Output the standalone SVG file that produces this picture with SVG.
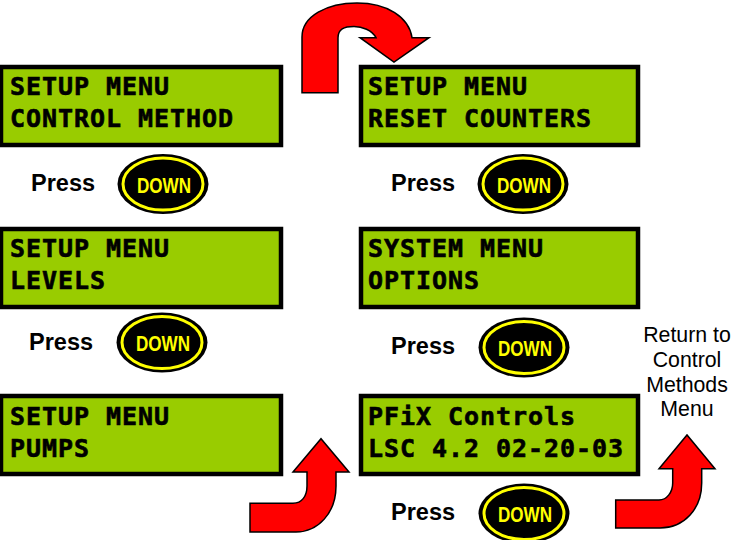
<svg xmlns="http://www.w3.org/2000/svg" width="734" height="540" viewBox="0 0 734 540">
<style>
.lcd{fill:#99cc00;stroke:#000;stroke-width:4.500}
.lt{font-family:"DejaVu Sans Mono",monospace;font-weight:700;font-size:25px;letter-spacing:.95px;fill:#000;stroke:#000;stroke-width:.6}
.pr{font-family:"Liberation Sans",Arial,sans-serif;font-weight:700;font-size:23.5px;fill:#000}
.rt{font-family:"Liberation Sans",Arial,sans-serif;font-size:21.300px;fill:#000;text-anchor:middle}
.bo{fill:#000}
.by{fill:#000;stroke:#ff0;stroke-width:3}
.bt{font-family:"Liberation Sans",Arial,sans-serif;font-weight:700;font-size:22.500px;fill:#ff0}
.ar{fill:#f00;stroke:#000;stroke-width:1.500;stroke-linejoin:miter}
</style>
<defs>
<g id="btn"><ellipse class="bo" cx="0" cy="0" rx="45.500" ry="30"/><ellipse class="by" cx="0" cy="0" rx="40" ry="26"/><text class="bt" x="-26" y="8.500" textLength="54" lengthAdjust="spacingAndGlyphs">DOWN</text></g>
</defs>
<g id="connectors">
<path class="ar" d="M302 92.700V37C302 16 327 3 357 3C387 3 409 17 412 37.700H429L394 62L360 37.700H376C372 30 362 26.500 354 26.500C344 26.500 338 29 338 38V92.700Z"/>
<path class="ar" d="M250 532V503.300H293C302 503.300 307 496 307 486V472H293L321 438.700L349 472H336V486C336 513 318 532 296 532Z"/>
<path class="ar" d="M615.700 528V500H659C667 500 672.700 492 672.700 483V468.700H659L687 435L715 468.700H701.700V483C701.700 509 684 528 660 528Z"/>
</g>
<g id="lcd-control-method"><rect class="lcd" x="1" y="67" width="280" height="78"/><text class="lt" x="10" y="95">SETUP MENU</text><text class="lt" x="10" y="127">CONTROL METHOD</text></g>
<g id="lcd-levels"><rect class="lcd" x="1" y="229" width="280" height="78"/><text class="lt" x="10" y="257">SETUP MENU</text><text class="lt" x="10" y="289">LEVELS</text></g>
<g id="lcd-pumps"><rect class="lcd" x="1" y="396" width="280" height="78"/><text class="lt" x="10" y="425">SETUP MENU</text><text class="lt" x="10" y="457">PUMPS</text></g>
<g id="lcd-reset"><rect class="lcd" x="361" y="67" width="277" height="78"/><text class="lt" x="368" y="95">SETUP MENU</text><text class="lt" x="368" y="127">RESET COUNTERS</text></g>
<g id="lcd-options"><rect class="lcd" x="361" y="229" width="277" height="78"/><text class="lt" x="368" y="257">SYSTEM MENU</text><text class="lt" x="368" y="289">OPTIONS</text></g>
<g id="lcd-pfix"><rect class="lcd" x="361" y="396" width="277" height="78"/><text class="lt" x="368" y="425">PFiX Controls</text><text class="lt" x="368" y="457">LSC 4.2 02-20-03</text></g>
<g id="press-1"><text class="pr" x="31" y="191">Press</text><use href="#btn" x="163" y="184"/></g>
<g id="press-2"><text class="pr" x="29" y="350">Press</text><use href="#btn" x="162" y="342.500"/></g>
<g id="press-3"><text class="pr" x="391" y="191">Press</text><use href="#btn" x="523" y="184"/></g>
<g id="press-4"><text class="pr" x="391" y="354">Press</text><use href="#btn" x="524" y="347.500"/></g>
<g id="press-5"><text class="pr" x="391" y="520">Press</text><use href="#btn" x="524" y="513.500"/></g>
<g id="return-label"><text class="rt" x="687" y="342">Return to</text><text class="rt" x="687" y="367">Control</text><text class="rt" x="687" y="392">Methods</text><text class="rt" x="687" y="416">Menu</text></g>
</svg>
